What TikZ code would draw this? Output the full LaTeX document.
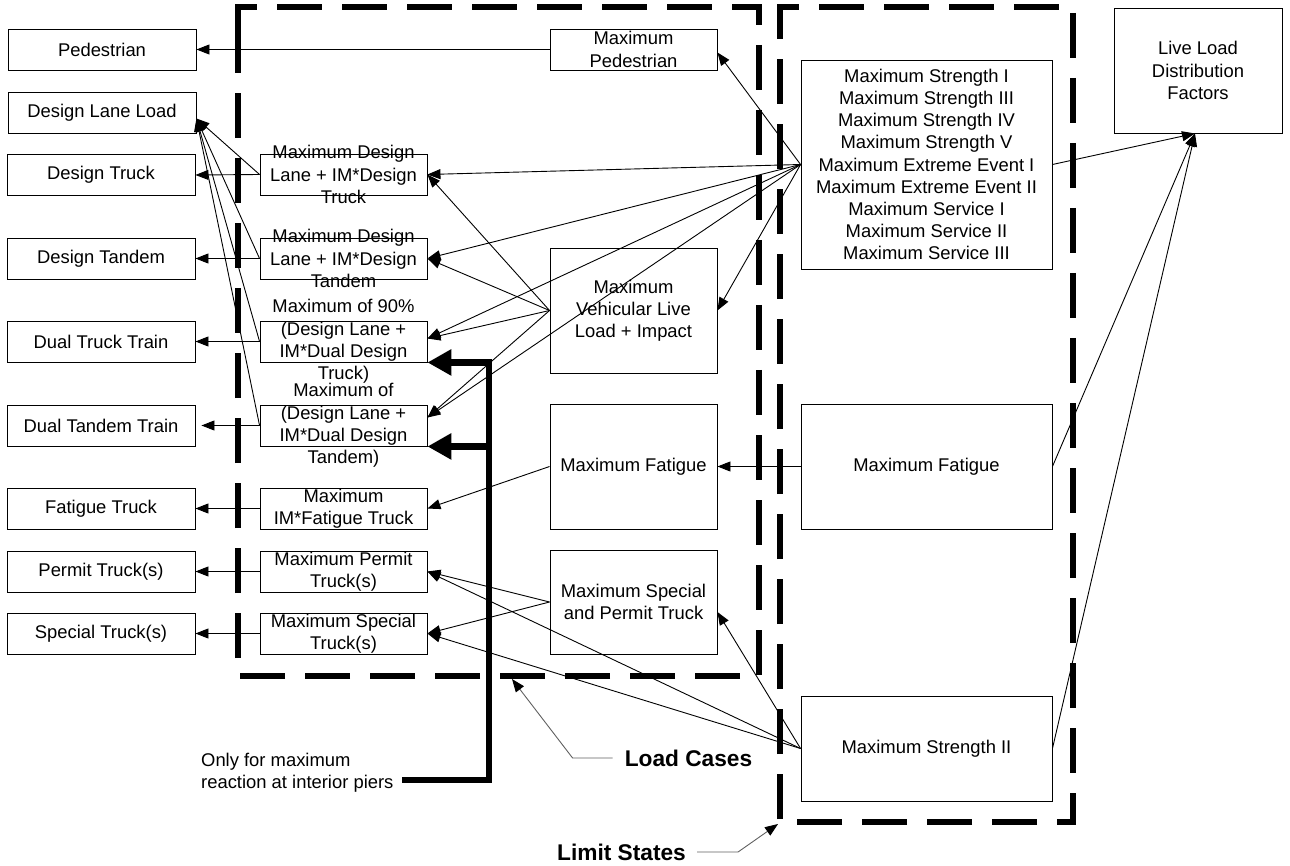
\documentclass[tikz,border=0pt]{standalone}
\usepackage{fontspec}
\setmainfont{Liberation Sans}
\usetikzlibrary{arrows.meta,calc}
\newcommand\mybox[6]{%
  \node[box,minimum width=#4pt,minimum height=#5pt] (#1) at (#2,#3) {};
  \node[txt] (#1t) at (#1.center) {#6};}
\begin{document}
\begin{tikzpicture}[x=1pt,y=-1pt,
  box/.style={draw,line width=0.9pt,inner sep=0pt},
  txt/.style={align=center,inner sep=0pt,font=\fontsize{18.4}{22.2}\selectfont},
  con/.style={line width=0.9pt,-{Triangle[length=13pt,width=10pt]}},
  big/.style={line width=6.5pt,line join=miter,-{Triangle[length=24pt,width=25pt]}},
  lsd/.style={line width=5.5pt,line join=miter,dash pattern=on 45pt off 20pt},
  call/.style={line width=0.9pt,draw=gray!75!black,-{Triangle[length=13pt,width=10pt,black]}},
  bold/.style={inner sep=0pt,font=\fontsize{22.7}{27}\selectfont\bfseries}]
\useasboundingbox (0,0) rectangle (1290,866);

% dashed group frames
\draw[lsd] (238,33) -- (238,7) -- (759,7) -- (759,676) -- (238,676) -- cycle;
\draw[lsd] (780,33) -- (780,7) -- (1073,7) -- (1073,822) -- (780,822) -- cycle;

% left column
\mybox{ped}{102}{49.5}{188}{41}{Pedestrian}
\mybox{dll}{102}{112.5}{188}{41}{Design Lane Load}
\mybox{dt}{101}{175}{188}{41}{Design Truck}
\mybox{dtan}{101}{258.5}{188}{41}{Design Tandem}
\mybox{dtt}{101}{341.5}{188}{41}{Dual Truck Train}
\mybox{dtant}{101}{425.5}{188}{41}{Dual Tandem Train}
\mybox{ft}{101}{508.5}{188}{41}{Fatigue Truck}
\mybox{pt}{101}{571.5}{188}{41}{Permit Truck(s)}
\mybox{st}{101}{633.5}{188}{41}{Special Truck(s)}

% load case boxes
\mybox{c1}{343.5}{174.5}{167}{41}{Maximum Design\\Lane + IM*Design\\Truck}
\mybox{c2}{343.5}{258.5}{167}{41}{Maximum Design\\Lane + IM*Design\\Tandem}
\mybox{c3}{343.5}{341.5}{167}{41}{Maximum of 90\%\\(Design Lane +\\IM*Dual Design\\Truck)}
\mybox{c4}{343.5}{425.5}{167}{41}{Maximum of\\(Design Lane +\\IM*Dual Design\\Tandem)}
\mybox{c5}{343.5}{508.5}{167}{41}{Maximum\\IM*Fatigue Truck}
\mybox{c6}{343.5}{571.5}{167}{41}{Maximum Permit\\Truck(s)}
\mybox{c7}{343.5}{633.5}{167}{41}{Maximum Special\\Truck(s)}

% middle column
\mybox{mped}{633.5}{49.5}{167}{41}{Maximum\\Pedestrian}
\mybox{mveh}{633.5}{310.5}{167}{125}{Maximum\\Vehicular Live\\Load + Impact}
\mybox{mfat}{633.5}{466.5}{167}{125}{Maximum Fatigue}
\mybox{msp}{633.5}{602}{167}{104}{Maximum Special\\and Permit Truck}

% limit states
\mybox{mstr}{926.5}{164.5}{251}{209}{Maximum Strength I\\Maximum Strength III\\Maximum Strength IV\\Maximum Strength V\\Maximum Extreme Event I\\Maximum Extreme Event II\\Maximum Service I\\Maximum Service II\\Maximum Service III}
\mybox{rfat}{926.5}{466.5}{251}{125}{Maximum Fatigue}
\mybox{mstr2}{926.5}{748.5}{251}{105}{Maximum Strength II}
\mybox{lldf}{1198}{70.5}{168}{125}{Live Load\\Distribution\\Factors}

% case -> load
\draw[con] (mped.west) -- (ped.east);
\foreach \c in {c1,c2,c3,c4} \draw[con] (\c.west) -- ([yshift=-6pt]dll.east);
\draw[con] (c1.west) -- (dt.east);
\draw[con] (c2.west) -- (dtan.east);
\draw[con] (c3.west) -- (dtt.east);
\draw[con,shorten >=6pt] (c4.west) -- (dtant.east);
\draw[con] (c5.west) -- (ft.east);
\draw[con] (c6.west) -- (pt.east);
\draw[con] (c7.west) -- (st.east);

% strength group
\draw[con] (mstr.west) -- ([yshift=-3pt]mped.east);
\draw[con] (mstr.west) -- (c1.east);
\draw[con] (mstr.west) -- (c2.east);
\draw[con] (mstr.west) -- ([yshift=3pt]c3.east);
\draw[con] (mstr.west) -- ([yshift=8pt]c4.east);
\draw[con] (mstr.west) -- (mveh.east);

% vehicular
\draw[con] (mveh.west) -- (c1.east);
\draw[con] (mveh.west) -- (c2.east);
\draw[con] (mveh.west) -- ([yshift=3pt]c3.east);
\draw[con] (mveh.west) -- ([yshift=8pt]c4.east);

% fatigue
\draw[con] (mfat.west) -- (c5.east);
\draw[con] (rfat.west) -- (mfat.east);

% special and permit
\draw[con] (msp.west) -- (c6.east);
\draw[con] (msp.west) -- (c7.east);
\draw[con] (mstr2.west) -- (c6.east);
\draw[con] (mstr2.west) -- (c7.east);
\draw[con] (mstr2.west) -- ([yshift=-10pt]msp.east);

% to distribution factors
\draw[con] (mstr.east) -- ([xshift=-3pt]lldf.south);
\draw[con] (rfat.east) -- ([xshift=-3pt]lldf.south);
\draw[con] (mstr2.east) -- ([xshift=-3pt]lldf.south);

% interior piers bracket
\node[txt,align=left,anchor=west] (note) at (201,772.5) {Only for maximum\\reaction at interior piers};
\coordinate (nb) at (402,780);
\coordinate (bc) at (489,780);
\draw[big] (nb) -- (bc) |- (c3.south east);
\draw[big] (bc |- c4.south east) -- (c4.south east);

% callouts
\node[bold] (lc) at (688.5,758) {Load Cases};
\coordinate (lcp) at (512,679);
\draw[call] ([xshift=-12pt]lc.west) -- ++(-40,0) -- (lcp);
\node[bold] (ls) at (621.5,852) {Limit States};
\coordinate (lsp) at (778,824);
\draw[call] ([xshift=11pt]ls.east) -- ++(41,0) -- (lsp);
\end{tikzpicture}
\end{document}
